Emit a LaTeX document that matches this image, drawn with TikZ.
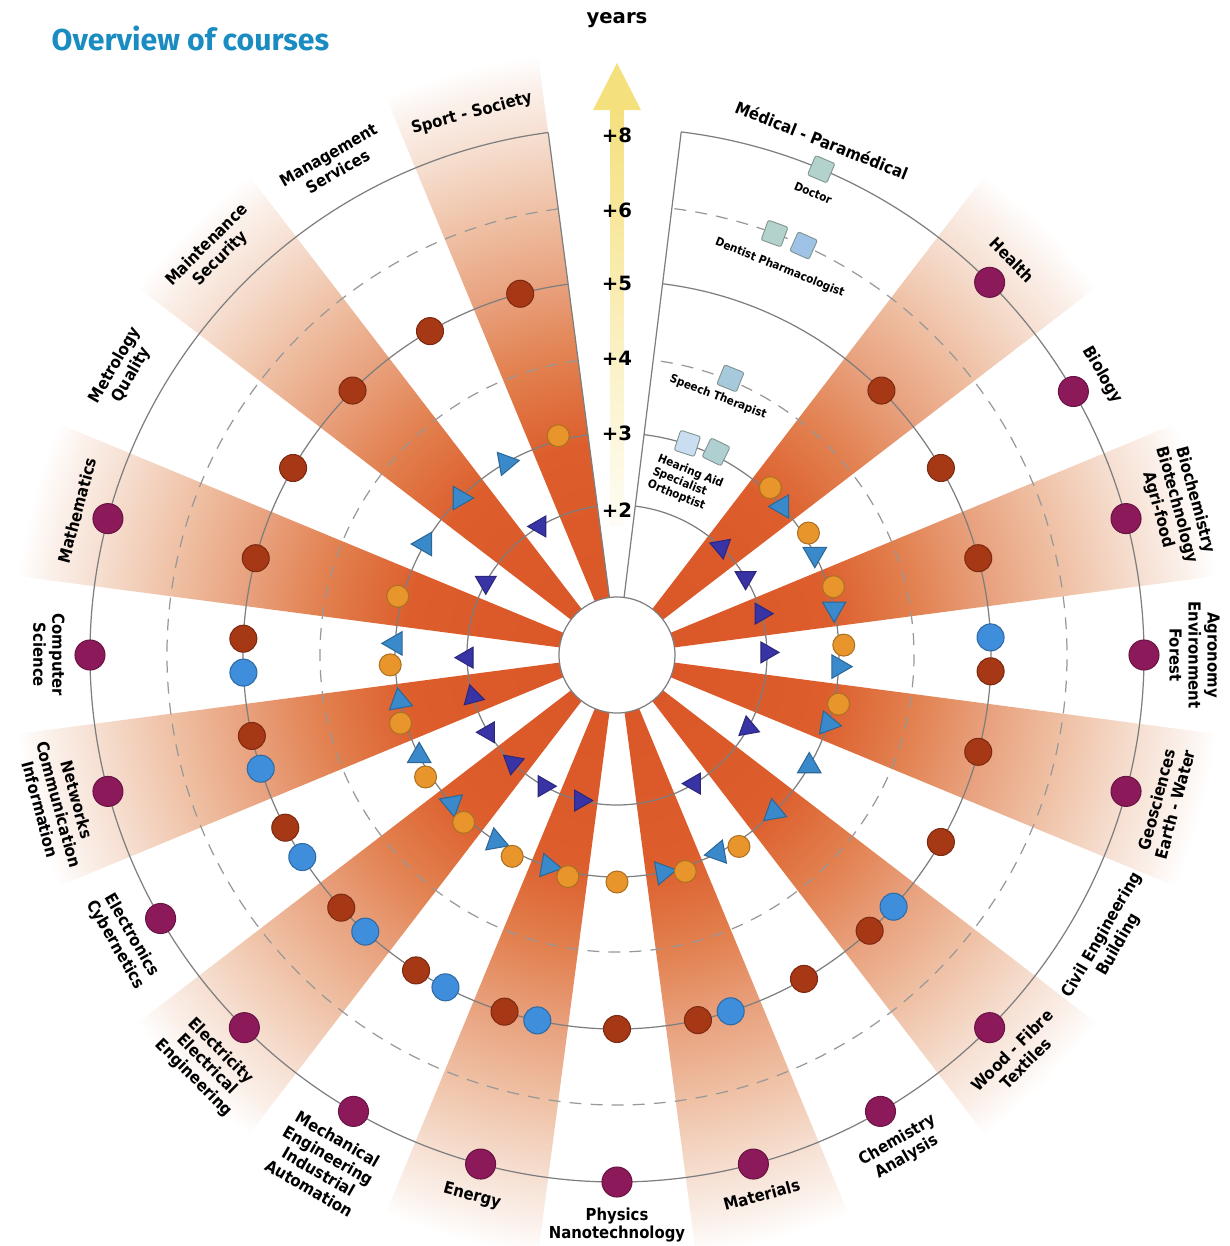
\documentclass[tikz,border=0pt]{standalone}
\usepackage{fontspec}
\setmainfont{DejaVu Sans}
\newfontfamily\catfont{DejaVu Sans Condensed}
\newfontfamily\titlefont{Fira Sans}
\usetikzlibrary{shapes.geometric,positioning}

\definecolor{titleblue}{HTML}{1A8CC1}
\definecolor{ringgray}{HTML}{7E7E7E}
\definecolor{wedgeA}{HTML}{DA5527}
\definecolor{wedgeB}{HTML}{DD5D2C}
\definecolor{wedgeC}{HTML}{E2804F}
\definecolor{wedgeD}{HTML}{E8A07C}
\definecolor{wedgeE}{HTML}{EFC0A4}
\definecolor{wedgeF}{HTML}{F6DFD1}
\definecolor{wedgeG}{HTML}{FBF1EB}
\definecolor{arrowyellow}{HTML}{F5E07E}
\definecolor{dotred}{HTML}{A63816}
\definecolor{dotblue}{HTML}{3F8EDB}
\definecolor{dotpurple}{HTML}{8C1A5B}
\definecolor{dotorange}{HTML}{E8952C}
\definecolor{trilight}{HTML}{3A8ACB}
\definecolor{tridark}{HTML}{3934A6}
\definecolor{medgrey}{HTML}{B4D2CC}
\definecolor{medblue}{HTML}{9EC3E6}

\pgfdeclareradialshading{wedgefade}{\pgfpoint{0cm}{0cm}}{%
  color(0cm)=(wedgeA); color(2.1cm)=(wedgeB); color(3cm)=(wedgeC);
  color(3.74cm)=(wedgeD); color(4.5cm)=(wedgeE); color(5.27cm)=(wedgeF);
  color(5.75cm)=(wedgeG); color(6.05cm)=(white); color(6.2cm)=(white)}

\begin{document}
\begin{tikzpicture}
  [ring/.style={draw=ringgray, line width=0.35pt},
   dashring/.style={draw=ringgray!80, line width=0.35pt, dash pattern=on 3.4pt off 2.6pt},
   ball/.style={circle, inner sep=0pt, minimum size=#1, line width=0.3pt},
   reddot/.style={ball=0.27cm, fill=dotred, draw=dotred!75!black},
   bluedot/.style={ball=0.27cm, fill=dotblue, draw=dotblue!75!black},
   purpledot/.style={ball=0.30cm, fill=dotpurple, draw=dotpurple!75!black},
   orangedot/.style={ball=0.22cm, fill=dotorange, draw=dotorange!75!black},
   tri/.style={regular polygon, regular polygon sides=3, inner sep=0pt, line width=0.3pt},
   lighttri/.style={tri, minimum size=0.27cm, fill=trilight, draw=trilight!75!black},
   darktri/.style={tri, minimum size=0.24cm, fill=tridark, draw=tridark!75!black},
   medbox/.style={rectangle, rounded corners=0.6pt, minimum size=0.21cm, inner sep=0pt,
                  draw=medgrey!70!black, line width=0.25pt},
   catlabel/.style={font=\catfont\bfseries\fontsize{4.7}{5.4}\selectfont, align=center, inner sep=0.5pt},
   sublabel/.style={font=\catfont\bfseries\fontsize{3.3}{3.9}\selectfont, inner sep=0.5pt},
   yearlabel/.style={font=\bfseries\fontsize{5.6}{6}\selectfont, inner sep=0.5pt}]

  \useasboundingbox (-6.17,-5.91) rectangle (6.13,6.55);

  % shaded sectors
  \begin{scope}
    \clip \foreach \a in {105,135,...,405}
      {(0,0) -- ({\a-7.5}:6.2) arc[start angle={\a-7.5}, end angle={\a+7.5}, radius=6.2] -- cycle};
    \node[inner sep=0pt] (fade) at (0,0) {\pgfuseshading{wedgefade}};
  \end{scope}

  % year rings
  \foreach \r/\sty in {1.5/ring,2.22/ring,2.97/dashring,3.74/ring,4.5/dashring,5.27/ring}
    \draw[\sty] (97.5:\r) arc[start angle=97.5, end angle=443, radius=\r];
  \draw[ring] (83:0.58) -- (83:5.27);
  \draw[ring] (97.5:0.58) -- (97.5:5.27);

  \node[circle, fill=white, draw=ringgray, line width=0.35pt, minimum size=1.16cm, inner sep=0pt] (hub) at (0,0) {};

  % years arrow
  \shade[top color=arrowyellow, middle color=arrowyellow!75, bottom color=arrowyellow!8]
    (-0.065,1.3) rectangle (0.065,5.46);
  \fill[arrowyellow] (-0.24,5.45) -- (0,5.92) -- (0.24,5.45) -- cycle;
  \node[yearlabel] (years) at (0,6.35) {years};
  \foreach \y/\t [count=\i] in {5.2/+8,4.45/+6,3.72/+5,2.97/+4,2.22/+3,1.45/+2}
    \node[yearlabel] (tick\i) at (0,\y) {\t};

  \node[font=\titlefont\bfseries\fontsize{8.6}{10}\selectfont, text=titleblue, anchor=west, inner sep=0pt]
    (title) at (-5.66,6.17) {Overview of courses};

  % +5 ring
  \foreach \a in {105,120,135,150,165,270,300,330,345,15,30,45}
    \node[reddot] (red\a) at (\a:3.74) {};
  \foreach \a in {180,195,210,225,240,255,285,315,360} {
    \node[reddot] (red\a) at ({\a-2.5}:3.74) {};
    \node[bluedot] (blue\a) at ({\a+2.7}:3.74) {};
  }

  % +8 ring
  \foreach \a in {165,180,...,315,345,360,15,30,45}
    \node[purpledot] (purple\a) at (\a:5.27) {};

  % +3 ring
  \foreach \a in {105,165,270}
    \node[orangedot] (orange\a) at (\a:2.27) {};
  \foreach \a/\d in {120/-80,135/-90,150/-30,315/10,330/0}
    \node[lighttri, shape border rotate=\d] (light\a) at (\a:2.22) {};
  \foreach \a/\d in {180/90,195/10,210/0,225/70,240/-110,255/-100,285/160,300/100,345/-100,360/-90,15/180,30/180,45/90} {
    \node[lighttri, shape border rotate=\d] (light\a) at ({\a-3}:2.22) {};
    \node[orangedot] (orange\a) at ({\a+2.5}:2.27) {};
  }

  % +2 ring
  \foreach \a/\d in {120/90,150/180,180/90,195/135,210/-30,225/-70,240/-90,255/-90,300/90,330/10,360/-90,15/150,30/180,45/70}
    \node[darktri, shape border rotate=\d] (dark\a) at ({\a+1}:1.5) {};

  % course labels
  \foreach \a/\rot/\anc/\txt in {105/15/south/{Sport - Society},
      120/30/south/{Management\\Services}, 135/45/south/{Maintenance\\Security},
      150/60/south/{Metrology\\Quality}, 165/75/south/{Mathematics},
      180/-90/north/{Computer\\Science}, 195/-75/north/{Networks\\Communication\\Information},
      210/-60/north/{Electronics\\Cybernetics}, 225/-45/north/{Electricity\\Electrical\\Engineering},
      240/-30/north/{Mechanical\\Engineering\\Industrial\\Automation}, 255/-15/north/{Energy},
      270/0/north/{Physics\\Nanotechnology}, 285/15/north/{Materials},
      300/30/north/{Chemistry\\Analysis}, 315/45/north/{Wood - Fibre\\Textiles},
      330/60/north/{Civil Engineering\\Building}, 345/75/north/{Geosciences\\Earth - Water},
      360/-90/south/{Agronomy\\Environment\\Forest}, 15/-75/south/{Biochemistry\\Biotechnology\\Agri-food},
      30/-60/south/{Biology}, 45/-45/south/{Health}}
    \node[catlabel, rotate=\rot, anchor=\anc] (label\a) at (\a:5.5) {\txt};

  % medical sector
  \node[catlabel, rotate=-21.7] (medical) at (68.3:5.54) {Médical - Paramédical};
  \node[medbox, fill=medgrey, rotate=-23] (doctor) at (67.2:5.27) {};
  \node[sublabel, rotate=-23] (doctorlbl) at (67:5.02) {Doctor};
  \node[medbox, fill=medgrey, rotate=-20] (dentist) at (69.5:4.5) {};
  \node[medbox, fill=medblue, rotate=-24] (pharma) at (65.5:4.5) {};
  \node[sublabel, rotate=-22] (dentistlbl) at (67.2:4.2) {Dentist Pharmacologist};
  \node[medbox, fill=medblue!60!medgrey, rotate=-22] (speech) at (67.7:2.99) {};
  \node[sublabel, rotate=-21] (speechlbl) at (68.6:2.77) {Speech Therapist};
  \node[medbox, fill=medblue!55!white, rotate=-18] (hearing) at (71.6:2.23) {};
  \node[medbox, fill=medgrey!80!medblue, rotate=-26] (orthoptist) at (64:2.26) {};
  \node[sublabel, rotate=-22, align=left] (hearinglbl) at (68.2:1.84) {Hearing Aid\\Specialist\\Orthoptist};
\end{tikzpicture}
\end{document}
